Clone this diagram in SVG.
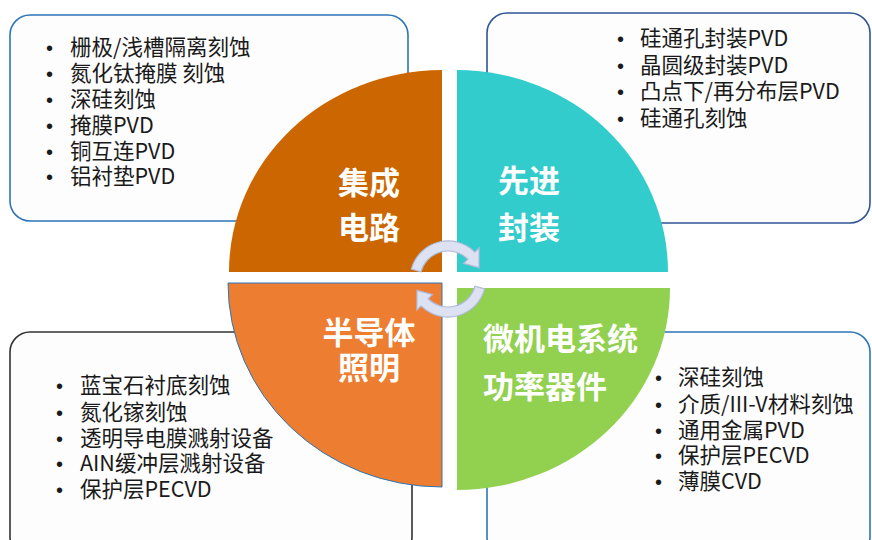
<svg xmlns="http://www.w3.org/2000/svg" width="872" height="540" viewBox="0 0 872 540">
<style>
.box{fill:#FDFDFD;stroke-width:1.6}
.li{font-family:"Noto Sans CJK SC","Noto Sans",sans-serif;font-size:21.5px;fill:#1A1A1A}
.bu{font-family:"Liberation Sans",sans-serif;font-size:20px}
.q{font-family:"Noto Sans CJK SC",sans-serif;font-size:31px;font-weight:bold;fill:#FFFFFF}
.arr{fill:#DCE2F1;stroke:#AEBAD9;stroke-width:1.2}
</style>
<rect width="872" height="540" fill="#FFFFFF"/>
<g id="box-ic">
<rect class="box" x="10" y="15" width="398" height="206" rx="20" stroke="#2E75B6"/>
<text class="li"><tspan class="bu" x="46" y="55">•</tspan><tspan x="70">栅极/浅槽隔离刻蚀</tspan><tspan class="bu" x="46" y="81">•</tspan><tspan x="70">氮化钛掩膜 刻蚀</tspan><tspan class="bu" x="46" y="107">•</tspan><tspan x="70">深硅刻蚀</tspan><tspan class="bu" x="46" y="133">•</tspan><tspan x="70">掩膜PVD</tspan><tspan class="bu" x="46" y="159">•</tspan><tspan x="70">铜互连PVD</tspan><tspan class="bu" x="46" y="184">•</tspan><tspan x="70">铝衬垫PVD</tspan></text>
</g>
<g id="box-ap">
<rect class="box" x="487" y="13" width="383" height="210" rx="20" stroke="#2F5597"/>
<text class="li"><tspan class="bu" x="617" y="46">•</tspan><tspan x="640">硅通孔封装PVD</tspan><tspan class="bu" x="617" y="72.5">•</tspan><tspan x="640">晶圆级封装PVD</tspan><tspan class="bu" x="617" y="99">•</tspan><tspan x="640">凸点下/再分布层PVD</tspan><tspan class="bu" x="617" y="125.5">•</tspan><tspan x="640">硅通孔刻蚀</tspan></text>
</g>
<g id="box-led">
<rect class="box" x="10" y="332" width="402" height="225" rx="20" stroke="#333333"/>
<text class="li"><tspan class="bu" x="56" y="393">•</tspan><tspan x="80">蓝宝石衬底刻蚀</tspan><tspan class="bu" x="56" y="419.5">•</tspan><tspan x="80">氮化镓刻蚀</tspan><tspan class="bu" x="56" y="445.5">•</tspan><tspan x="80">透明导电膜溅射设备</tspan><tspan class="bu" x="56" y="471">•</tspan><tspan x="80">AIN缓冲层溅射设备</tspan><tspan class="bu" x="56" y="497">•</tspan><tspan x="80">保护层PECVD</tspan></text>
</g>
<g id="box-mems">
<rect class="box" x="487" y="332" width="383" height="225" rx="20" stroke="#2E75B6"/>
<text class="li"><tspan class="bu" x="655" y="385">•</tspan><tspan x="678">深硅刻蚀</tspan><tspan class="bu" x="655" y="411.5">•</tspan><tspan x="678">介质/III-V材料刻蚀</tspan><tspan class="bu" x="655" y="437.5">•</tspan><tspan x="678">通用金属PVD</tspan><tspan class="bu" x="655" y="463">•</tspan><tspan x="678">保护层PECVD</tspan><tspan class="bu" x="655" y="489">•</tspan><tspan x="678">薄膜CVD</tspan></text>
</g>
<g id="q-ic">
<path d="M442,272 L229,272 A213,202 0 0 1 442,70 Z" fill="#CC6600"/>
<text class="q" text-anchor="middle"><tspan x="369" y="194">集成</tspan><tspan x="369" y="239">电路</tspan></text>
</g>
<g id="q-ap">
<path d="M457,272 L457,70 A211,202 0 0 1 668,272 Z" fill="#33CCCC"/>
<text class="q" text-anchor="middle"><tspan x="529" y="192">先进</tspan><tspan x="529" y="239">封装</tspan></text>
</g>
<g id="q-led">
<path d="M442,283 L442,487 A214,204 0 0 1 228,283 Z" fill="#ED7D31" stroke="#2E75B6" stroke-width="1"/>
<text class="q" text-anchor="middle"><tspan x="369" y="344">半导体</tspan><tspan x="369" y="379">照明</tspan></text>
</g>
<g id="q-mems">
<path d="M457,288 L670,288 A213,202 0 0 1 457,490 Z" fill="#92D050"/>
<text class="q"><tspan x="483" y="350">微机电系统</tspan><tspan x="483" y="398">功率器件</tspan></text>
</g>
<g id="connectors">
<path id="cyc" class="arr" d="M411.3,269.2 A38,38 0 0 1 474.9,252.1 L479.1,247.9 L479,267.7 L463.6,263.4 L467.8,259.2 A28,28 0 0 0 421,271.8 Z"/>
<use href="#cyc" transform="rotate(180 448 279)"/>
</g>
</svg>
